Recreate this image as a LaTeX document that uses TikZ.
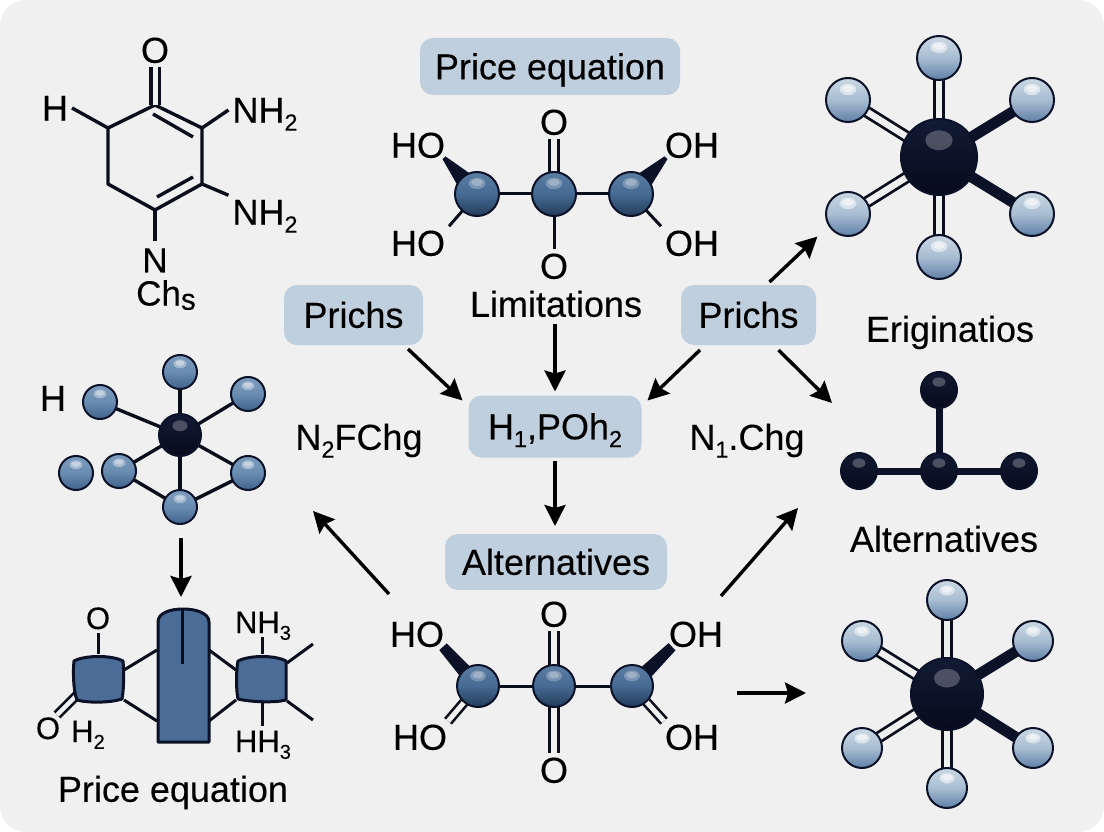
\documentclass[tikz,border=0pt]{standalone}
\usepackage{fontspec}
\usepackage{graphicx}
\setmainfont{Liberation Sans}
\newfontfamily\lblfont[FakeBold=0.2]{Liberation Sans}
\usetikzlibrary{backgrounds,calc,arrows.meta}
\definecolor{bgc}{HTML}{F0F0F1}
\definecolor{boxc}{HTML}{BFCFDD}
\definecolor{inkc}{HTML}{0A0E1A}
\definecolor{navy}{HTML}{0B1228}
\definecolor{blockc}{HTML}{4A6C96}
\definecolor{midT}{HTML}{5C7DA3}
\definecolor{midM}{HTML}{466A93}
\definecolor{midB}{HTML}{233C5A}
\definecolor{skyT}{HTML}{7C9DBE}
\definecolor{skyM}{HTML}{6A8CB0}
\definecolor{skyB}{HTML}{3F628C}
\definecolor{lightT}{HTML}{CBD8E4}
\definecolor{lightM}{HTML}{A8BDD2}
\definecolor{lightB}{HTML}{5F80A6}
\definecolor{darkT}{HTML}{121B35}
\definecolor{darkB}{HTML}{060B1C}
\newcommand{\lsub}[1]{\raisebox{-.22em}{\scalebox{.65}{#1}}}
\tikzset{
  x=1pt,y=-1pt,
  lbl/.style={inner sep=0pt,outer sep=4pt,text=black,font=\lblfont\fontsize{36}{40}\selectfont,text height=25.5pt,text depth=0pt},
  lblsm/.style={lbl,font=\lblfont\fontsize{31}{36}\selectfont,text height=22pt},
  lblmd/.style={lbl,font=\lblfont\fontsize{35}{38}\selectfont,text height=25pt},
  boxn/.style={lbl,fill=boxc,rounded corners=13pt,outer sep=0pt},
  bond/.style={draw=inkc,line width=3.4pt},
  bondthin/.style={draw=inkc,line width=3pt},
  dbl/.style={draw=inkc,line width=2.8pt,double=bgc,double distance=6.5pt},
  fatbond/.style={draw=navy,line width=11pt},
  arrowl/.style={draw=black,line width=3.4pt,-{Stealth[length=21pt,width=21pt,inset=3pt]}},
  ballbase/.style={circle,inner sep=0pt,outer sep=0pt,draw=navy,line width=2pt,minimum size=#1pt},
  hl/.style 2 args={path picture={
     \fill[white,opacity=#2] ($(path picture bounding box.center)+(0,-0.24*#1)$) ellipse [x radius=0.19*#1,y radius=0.13*#1];
     \fill[white,opacity=#2] ($(path picture bounding box.center)+(0,-0.26*#1)$) ellipse [x radius=0.13*#1,y radius=0.08*#1];}},
  hlone/.style 2 args={path picture={
     \fill[white,opacity=#2] ($(path picture bounding box.center)+(0,-0.22*#1)$) ellipse [x radius=0.18*#1,y radius=0.13*#1];}},
  midball/.style={ballbase=#1,top color=midT,bottom color=midB,middle color=midM,hl={#1}{.25}},
  skyball/.style={ballbase=#1,top color=skyT,bottom color=skyB,middle color=skyM,hl={#1}{.35}},
  lightball/.style={ballbase=#1,top color=lightT,bottom color=lightB,middle color=lightM,hl={#1}{.5}},
  darkball/.style={ballbase=#1,top color=darkT,bottom color=darkB,hlone={#1}{.25}},
}
\begin{document}
\begin{tikzpicture}
\useasboundingbox (0,0) rectangle (1104,832);
\begin{pgfonlayer}{background}
  \fill[white] (0,0) rectangle (1104,832);
  \fill[bgc,rounded corners=26pt] (0,0) rectangle (1104,832);
\end{pgfonlayer}

% --- boxes
\node[boxn,minimum width=260pt,minimum height=57pt] (bPrice) at (550,66.5) {Price equation};
\node[boxn,minimum width=139pt,minimum height=60pt] (pL) at (353.5,315) {Prichs};
\node[boxn,minimum width=135pt,minimum height=60pt] (pR) at (748.5,315) {Prichs};
\node[boxn,minimum width=173pt,minimum height=62pt] (hp) at (555,426.5) {H\lsub{1},POh\lsub{2}};
\node[boxn,minimum width=222pt,minimum height=56pt] (alt) at (556,562) {Alternatives};

% --- free texts
\node[lbl] (lim) at (556,304) {Limitations};
\node[lbl] (n2f) at (359,437) {N\lsub{2}FChg};
\node[lbl] (n1c) at (747,437) {N\lsub{1}.Chg};
\node[lbl] (erig) at (950,329) {Eriginatios};
\node[lbl] (altb) at (944,539) {Alternatives};
\node[lbl] (pq) at (173,789) {Price equation};

% --- top-left ring molecule
\node[lbl] (tO) at (155,50) {O};
\node[lbl] (tH) at (55,108) {H};
\node[lbl] (tN1) at (265,110) {NH\lsub{2}};
\node[lbl] (tN2) at (265,212) {NH\lsub{2}};
\node[lblmd] (tN) at (155,260) {N};
\node[lblmd] (tC) at (166,293) {Ch\raisebox{-.12em}{\scalebox{.85}{s}}};
\coordinate (r1) at (155,105);
\coordinate (r2) at (202,128);
\coordinate (r3) at (202,184);
\coordinate (r4) at (155,210);
\coordinate (r5) at (108,184);
\coordinate (r6) at (108,128);
\coordinate (i1) at (153,114);
\coordinate (i2) at (193,137);
\coordinate (i3) at (193,177);
\coordinate (i4) at (157,197);
\begin{pgfonlayer}{background}
  \draw[bond,line join=round] (r1) -- (r2) -- (r3) -- (r4) -- (r5) -- (r6) -- cycle;
  \draw[bond] (i1) -- (i2);
  \draw[bond] (i3) -- (i4);
  \draw[bond,double=bgc,line width=3.2pt,double distance=5pt] (tO.south) -- (r1);
  \draw[bond] (tH.east) -- (r6);
  \draw[bond] (tN1.west) -- (r2);
  \draw[bond] (tN2.north west) -- (r3);
  \draw[bond] (r4) -- ([yshift=3pt]tN.north);
\end{pgfonlayer}

% --- top centre molecule
\node[midball=44] (a1) at (477,194) {};
\node[midball=44] (a2) at (554,194) {};
\node[midball=44] (a3) at (631,194) {};
\node[lbl] (aO) at (554,122) {O};
\node[lbl] (aB) at (554,266) {O};
\node[lbl] (aHO1) at (418,145) {HO};
\node[lbl] (aHO2) at (418,243) {HO};
\node[lbl] (aOH1) at (692,145) {OH};
\node[lbl] (aOH2) at (692,243) {OH};
\coordinate (aw1) at ([shift={(-5pt,4pt)}]aHO1.south east);
\coordinate (aw2) at ([shift={(5pt,4pt)}]aOH1.south west);
\begin{pgfonlayer}{background}
  \draw[bondthin] (a1) -- (a2);
  \draw[bondthin] (a2) -- (a3);
  \draw[dbl] (aO.south) -- (a2);
  \draw[bondthin] (a2) -- (aB.north);
  \fill[navy] ($(aw1)!2pt!90:(a1)$) -- ($(a1)!13pt!-90:(aw1)$) -- ($(a1)!13pt!90:(aw1)$) -- ($(aw1)!2pt!-90:(a1)$) -- cycle;
  \fill[navy] ($(aw2)!2pt!90:(a3)$) -- ($(a3)!13pt!-90:(aw2)$) -- ($(a3)!13pt!90:(aw2)$) -- ($(aw2)!2pt!-90:(a3)$) -- cycle;
  \draw[bondthin] (aHO2.north east) -- (a1);
  \draw[bondthin] (aOH2.north west) -- (a3);
\end{pgfonlayer}

% --- bottom centre molecule
\node[midball=42] (m1) at (478,686) {};
\node[midball=42] (m2) at (554,686) {};
\node[midball=42] (m3) at (632,686) {};
\node[lbl] (mO) at (554,614) {O};
\node[lbl] (mB) at (554,770) {O};
\node[lbl] (mHO1) at (417,634) {HO};
\node[lbl] (mHO2) at (420,737) {HO};
\node[lbl] (mOH1) at (696,634) {OH};
\node[lbl] (mOH2) at (692,737) {OH};
\coordinate (mw1) at ([shift={(-5pt,4pt)}]mHO1.south east);
\coordinate (mw2) at ([shift={(7pt,4pt)}]mOH1.south west);
\begin{pgfonlayer}{background}
  \draw[bondthin] (m1) -- (m2);
  \draw[bondthin] (m2) -- (m3);
  \draw[dbl] (mO.south) -- (m2);
  \draw[dbl] (m2) -- (mB.north);
  \fill[navy] ($(mw1)!5pt!90:(m1)$) -- ($(m1)!8pt!-90:(mw1)$) -- ($(m1)!8pt!90:(mw1)$) -- ($(mw1)!5pt!-90:(m1)$) -- cycle;
  \fill[navy] ($(mw2)!5pt!90:(m3)$) -- ($(m3)!8pt!-90:(mw2)$) -- ($(m3)!8pt!90:(mw2)$) -- ($(mw2)!5pt!-90:(m3)$) -- cycle;
  \draw[dbl,line width=2.6pt,double distance=5pt] ([shift={(-3pt,-1pt)}]mHO2.north east) -- (m1);
  \draw[dbl,line width=2.6pt,double distance=5pt] ([shift={(3pt,-1pt)}]mOH2.north west) -- (m3);
\end{pgfonlayer}

% --- left molecule
\node[darkball=42] (lC) at (180,435) {};
\node[skyball=34] (lT) at (180,372) {};
\node[skyball=34] (lUL) at (100,402) {};
\node[skyball=34] (lUR) at (248,394) {};
\node[skyball=34] (lS) at (76,473) {};
\node[skyball=34] (lLL) at (119,471) {};
\node[skyball=34] (lLR) at (248,473) {};
\node[skyball=34] (lB) at (180,507) {};
\node[lbl] (lH) at (53,398) {H};
\begin{pgfonlayer}{background}
  \foreach \t in {lT,lUL,lUR,lLL,lLR,lB} \draw[bond] (lC) -- (\t);
  \draw[bond] (lLL) -- (lB);
  \draw[bond] (lB) -- (lLR);
\end{pgfonlayer}

% --- lower-left blocks
\coordinate (kTop) at (182,608);
\coordinate (kIn) at (182,664);
\coordinate (bLa) at (124,670);
\coordinate (bLb) at (124,700);
\coordinate (bRa) at (236,670);
\coordinate (bRb) at (236,700);
\coordinate (bMa) at (157,650);
\coordinate (bMb) at (157,721);
\coordinate (bNa) at (209,650);
\coordinate (bNb) at (209,721);
\coordinate (bLt) at (98,654);
\coordinate (bLs) at (80,692);
\coordinate (bRt) at (262,654);
\coordinate (bRs) at (262,703);
\coordinate (bRc) at (287,663);
\coordinate (bRd) at (287,701);
\coordinate (sRc) at (313,644);
\coordinate (sRd) at (313,720);
\begin{pgfonlayer}{background}
  \draw[bondthin] (bLa) -- (bMa);
  \draw[bondthin] (bLb) -- (bMb);
  \draw[bondthin] (bNa) -- (bRa);
  \draw[bondthin] (bNb) -- (bRb);
\end{pgfonlayer}
\draw[draw=navy,fill=blockc,line width=3pt,line join=round]
  (158,742) -- (158,622) .. controls (158,613) and (170,609) .. (183,609)
  .. controls (196,609) and (209,613) .. (209,622) -- (209,742) -- cycle;
\draw[draw=navy,fill=blockc,line width=3pt,line join=round]
  (74,661) .. controls (85,655) and (112,655) .. (123,661)
  .. controls (124,670) and (124,690) .. (122,699)
  .. controls (110,703) and (87,703) .. (77,700)
  .. controls (73,690) and (73,670) .. (74,661) -- cycle;
\draw[draw=navy,fill=blockc,line width=3pt,line join=round]
  (238,661) .. controls (250,655) and (275,655) .. (286,661)
  -- (286,700)
  .. controls (275,703) and (250,702) .. (238,699)
  .. controls (236,690) and (236,670) .. (238,661) -- cycle;
\draw[bondthin] (kTop) -- (kIn);
\node[lblsm] (kO) at (98,618) {O};
\node[lblsm] (kO2) at (48,728) {O};
\node[lblsm] (kH2) at (88,731) {H\lsub{2}};
\node[lblsm] (kN) at (263,622) {NH\lsub{3}};
\node[lblsm] (kHH) at (263,741) {HH\lsub{3}};
\begin{pgfonlayer}{background}
  \draw[bondthin] (kO.south) -- (bLt);
  \draw[dbl,line width=2.6pt,double distance=4.5pt] ([shift={(-7pt,-2pt)}]kO2.north east) -- (bLs);
  \draw[bondthin] (kN.south -| bRt) -- (bRt);
  \draw[bondthin] (bRs) -- (kHH.north -| bRs);
  \draw[bondthin] (bRc) -- (sRc);
  \draw[bondthin] (bRd) -- (sRd);
\end{pgfonlayer}

% --- top right molecule
\node[darkball=76] (uC) at (939,157) {};
\node[lightball=44] (uT) at (939,58) {};
\node[lightball=44] (uUL) at (848,100) {};
\node[lightball=44] (uUR) at (1032,100) {};
\node[lightball=44] (uLL) at (848,214) {};
\node[lightball=44] (uLR) at (1032,214) {};
\node[lightball=44] (uB) at (939,257) {};
\begin{pgfonlayer}{background}
  \foreach \t in {uT,uUL,uLL,uB} \draw[dbl] (uC) -- (\t);
  \foreach \t in {uUR,uLR} \draw[fatbond] (uC) -- (\t);
\end{pgfonlayer}

% --- middle right molecule
\node[darkball=36] (vT) at (939,390) {};
\node[darkball=36] (vL) at (859,471) {};
\node[darkball=36] (vC) at (939,471) {};
\node[darkball=36] (vR) at (1019,471) {};
\begin{pgfonlayer}{background}
  \draw[draw=navy,line width=7pt] (vC) -- (vT);
  \draw[draw=navy,line width=7pt] (vL) -- (vC);
  \draw[draw=navy,line width=7pt] (vC) -- (vR);
\end{pgfonlayer}

% --- bottom right molecule
\node[darkball=72] (wC) at (947,694) {};
\node[lightball=40] (wT) at (947,600) {};
\node[lightball=40] (wUL) at (862,641) {};
\node[lightball=40] (wUR) at (1033,641) {};
\node[lightball=40] (wLL) at (862,748) {};
\node[lightball=40] (wLR) at (1033,748) {};
\node[lightball=40] (wB) at (947,788) {};
\begin{pgfonlayer}{background}
  \foreach \t in {wT,wUL,wLL,wB} \draw[dbl] (wC) -- (\t);
  \foreach \t in {wUR,wLR} \draw[fatbond] (wC) -- (\t);
\end{pgfonlayer}

% --- arrows
\coordinate (e5) at (832,403);
\coordinate (e7) at (313,511);
\coordinate (e8) at (798,508);
\draw[arrowl] ([shift={(-15pt,-4pt)}]pL.south east) -- ([shift={(-6pt,-5pt)}]hp.north west);
\draw[arrowl] ([yshift=-3pt]lim.south -| hp.north) -- ([yshift=4pt]hp.north);
\draw[arrowl] ([shift={(19pt,-5pt)}]pR.south west) -- ([shift={(6pt,-5pt)}]hp.north east);
\draw[arrowl] ([shift={(21pt,3pt)}]pR.north) -- ([shift={(-15pt,-7pt)}]uLL.south west);
\draw[arrowl] ([shift={(30pt,-5pt)}]pR.south) -- (e5);
\draw[arrowl] ([yshift=-3pt]hp.south) -- ([yshift=8pt]alt.north -| hp.south);
\draw[arrowl] ([shift={(-56pt,-4pt)}]alt.south west) -- (e7);
\draw[arrowl] ([shift={(54pt,-6pt)}]alt.south east) -- (e8);
\draw[arrowl] ([shift={(84pt,-7pt)}]m3.east) -- ([shift={(-105pt,1pt)}]wC.west);
\draw[arrowl] ([shift={(-1pt,-14pt)}]lB.south -| kTop) -- ([shift={(-1pt,11pt)}]kTop);
\end{tikzpicture}
\end{document}
